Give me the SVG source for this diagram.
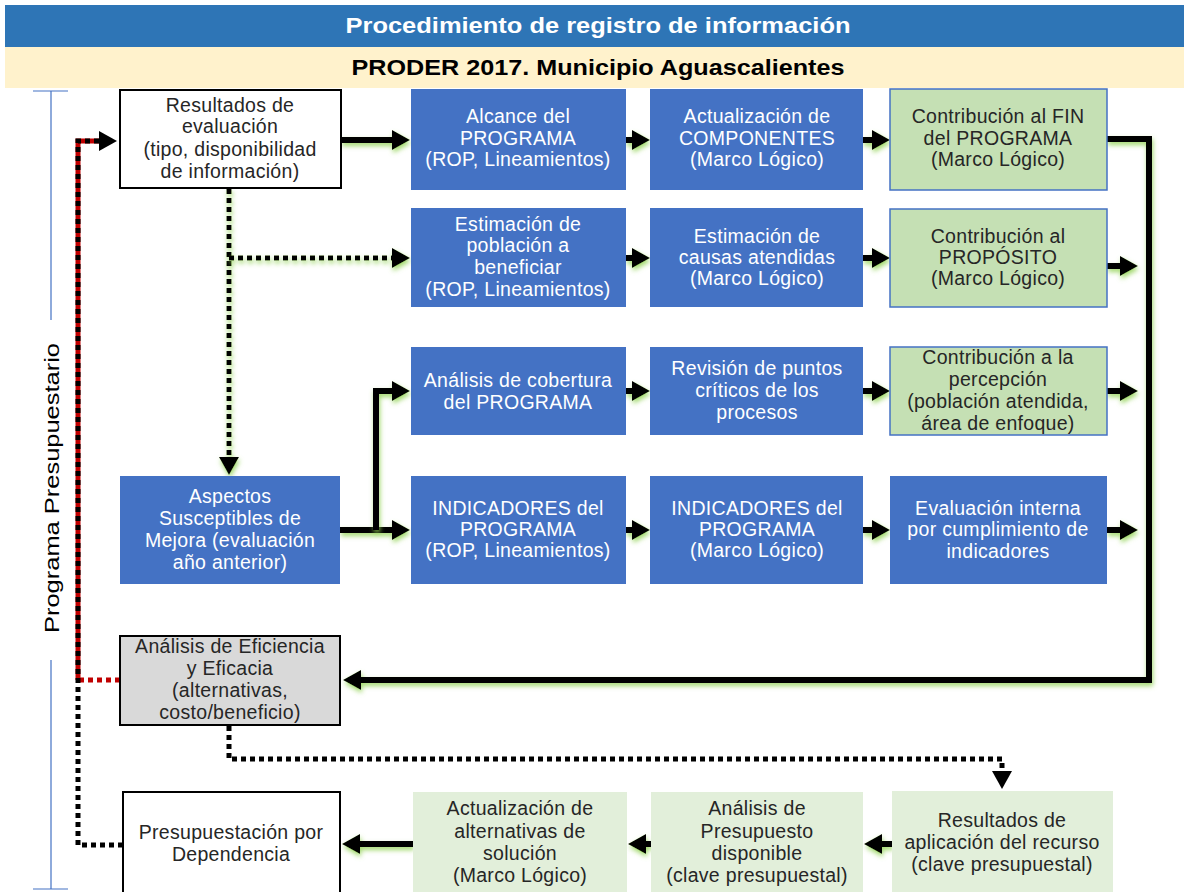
<svg xmlns="http://www.w3.org/2000/svg" width="1184" height="892" viewBox="0 0 1184 892">
<defs>
<style>
.t{font-family:"Liberation Sans",Arial,sans-serif;font-size:19.5px;letter-spacing:0.3px;text-anchor:middle;fill:#262626}
.w{fill:#ffffff}
.blue{fill:#4472C4}
.green{fill:#C5E0B4;stroke:#4472C4;stroke-width:1.5}
.lg{fill:#E2EFDA}
.wb{fill:#ffffff;stroke:#000;stroke-width:2}
.gb{fill:#D9D9D9;stroke:#000;stroke-width:2}
.thick{fill:none;stroke:#000;stroke-width:6;filter:url(#glow)}
.dot{fill:none;stroke:#000;stroke-width:5;stroke-dasharray:5 4}
.dotg{fill:none;stroke:#000;stroke-width:5;stroke-dasharray:5 4;filter:url(#glow)}
.hd{font-family:"Liberation Sans",Arial,sans-serif;font-weight:bold;font-size:22px;text-anchor:middle}
</style>
<filter id="glow" filterUnits="userSpaceOnUse" x="0" y="0" width="1184" height="892">
<feGaussianBlur in="SourceAlpha" stdDeviation="2.5" result="b"/>
<feOffset in="b" dx="1" dy="3" result="o"/>
<feFlood flood-color="#8fd14f" flood-opacity="0.85"/>
<feComposite in2="o" operator="in" result="g"/>
<feMerge><feMergeNode in="g"/><feMergeNode in="SourceGraphic"/></feMerge>
</filter>
<marker id="ah" markerUnits="userSpaceOnUse" viewBox="0 0 18 20" markerWidth="18" markerHeight="20" refX="1" refY="10" orient="auto">
<path d="M0,0 L18,10 L0,20 Z" fill="#000"/>
</marker>
</defs>

<g id="header">
<rect x="5" y="5" width="1179" height="42" fill="#2E75B6"/>
<text class="hd" x="598" y="33" fill="#ffffff" textLength="505" lengthAdjust="spacingAndGlyphs">Procedimiento de registro de información</text>
<rect x="5" y="47" width="1179" height="41" fill="#FFF2CC"/>
<text class="hd" x="598" y="75" fill="#000000" textLength="493" lengthAdjust="spacingAndGlyphs">PRODER 2017. Municipio Aguascalientes</text>
</g>

<g id="bracket">
<path d="M33,91 H68 M51,91 V320 M51,660 V889 M33,889 H68" fill="none" stroke="#4472C4" stroke-width="1.2"/>
<text transform="translate(59,488) rotate(-90)" x="0" y="0" font-family="Liberation Sans, Arial, sans-serif" font-size="20" text-anchor="middle" fill="#000" textLength="290" lengthAdjust="spacingAndGlyphs">Programa Presupuestario</text>
</g>

<g id="connectors">
<path d="M78,680 V141 H100" fill="none" stroke="#C00000" stroke-width="5"/>
<path d="M120,680 H78" fill="none" stroke="#C00000" stroke-width="5" stroke-dasharray="5 4"/>
<path class="dot" d="M123,845 H78 V141 H100" marker-end="url(#ah)"/>
<path class="thick" d="M341,140 H393" marker-end="url(#ah)"/>
<path class="thick" d="M626,140 H633" marker-end="url(#ah)"/>
<path class="thick" d="M863,140 H873" marker-end="url(#ah)"/>
<path class="thick" d="M1107,139 H1149 V680 H360" marker-end="url(#ah)"/>
<path class="dotg" d="M229,189 V458" marker-end="url(#ah)"/>
<path class="dotg" d="M229,258 H393" marker-end="url(#ah)"/>
<path class="thick" d="M626,258 H633" marker-end="url(#ah)"/>
<path class="thick" d="M863,258 H873" marker-end="url(#ah)"/>
<path class="thick" d="M1107,266 H1121" marker-end="url(#ah)"/>
<path class="thick" d="M626,391 H633" marker-end="url(#ah)"/>
<path class="thick" d="M863,391 H873" marker-end="url(#ah)"/>
<path class="thick" d="M1107,391 H1121" marker-end="url(#ah)"/>
<path class="thick" d="M340,530 H393" marker-end="url(#ah)"/>
<path class="thick" d="M376,530 V391 H393" marker-end="url(#ah)"/>
<path class="thick" d="M626,530 H633" marker-end="url(#ah)"/>
<path class="thick" d="M863,530 H873" marker-end="url(#ah)"/>
<path class="thick" d="M1107,530 H1121" marker-end="url(#ah)"/>
<path class="dot" d="M229,726 V759 H1002 V772" marker-end="url(#ah)"/>
<path class="thick" d="M892,844 H881" marker-end="url(#ah)"/>
<path class="thick" d="M651,844 H645" marker-end="url(#ah)"/>
<path class="thick" d="M413,844 H359" marker-end="url(#ah)"/>
</g>

<g id="n-resultados">
<rect class="wb" x="120" y="90" width="221" height="98"/>
<text class="t"><tspan x="230" y="112">Resultados de</tspan><tspan x="230" y="133">evaluación</tspan><tspan x="230" y="156">(tipo, disponibilidad</tspan><tspan x="230" y="178">de información)</tspan></text>
</g>
<g id="n-alcance">
<rect class="blue" x="411" y="89" width="215" height="101"/>
<text class="t w"><tspan x="518" y="123">Alcance del</tspan><tspan x="518" y="145">PROGRAMA</tspan><tspan x="518" y="166">(ROP, Lineamientos)</tspan></text>
</g>
<g id="n-componentes">
<rect class="blue" x="650" y="89" width="213" height="101"/>
<text class="t w"><tspan x="757" y="123">Actualización de</tspan><tspan x="757" y="145">COMPONENTES</tspan><tspan x="757" y="166">(Marco Lógico)</tspan></text>
</g>
<g id="n-fin">
<rect class="green" x="890" y="89" width="217" height="101"/>
<text class="t"><tspan x="998" y="123">Contribución al FIN</tspan><tspan x="998" y="145">del PROGRAMA</tspan><tspan x="998" y="166">(Marco Lógico)</tspan></text>
</g>

<g id="n-poblacion">
<rect class="blue" x="411" y="208" width="215" height="99"/>
<text class="t w"><tspan x="518" y="231">Estimación de</tspan><tspan x="518" y="252">población a</tspan><tspan x="518" y="274">beneficiar</tspan><tspan x="518" y="296">(ROP, Lineamientos)</tspan></text>
</g>
<g id="n-causas">
<rect class="blue" x="650" y="208" width="213" height="99"/>
<text class="t w"><tspan x="757" y="243">Estimación de</tspan><tspan x="757" y="264">causas atendidas</tspan><tspan x="757" y="285">(Marco Lógico)</tspan></text>
</g>
<g id="n-proposito">
<rect class="green" x="890" y="209" width="217" height="98"/>
<text class="t"><tspan x="998" y="243">Contribución al</tspan><tspan x="998" y="264">PROPÓSITO</tspan><tspan x="998" y="285">(Marco Lógico)</tspan></text>
</g>

<g id="n-cobertura">
<rect class="blue" x="411" y="347" width="215" height="88"/>
<text class="t w"><tspan x="518" y="387">Análisis de cobertura</tspan><tspan x="518" y="409">del PROGRAMA</tspan></text>
</g>
<g id="n-criticos">
<rect class="blue" x="650" y="347" width="213" height="88"/>
<text class="t w"><tspan x="757" y="375">Revisión de puntos</tspan><tspan x="757" y="397">críticos de los</tspan><tspan x="757" y="419">procesos</tspan></text>
</g>
<g id="n-percepcion">
<rect class="green" x="890" y="347" width="217" height="88"/>
<text class="t"><tspan x="998" y="364">Contribución a la</tspan><tspan x="998" y="386">percepción</tspan><tspan x="998" y="408">(población atendida,</tspan><tspan x="998" y="430">área de enfoque)</tspan></text>
</g>

<g id="n-aspectos">
<rect class="blue" x="120" y="476" width="220" height="108"/>
<text class="t w"><tspan x="230" y="503">Aspectos</tspan><tspan x="230" y="525">Susceptibles de</tspan><tspan x="230" y="547">Mejora (evaluación</tspan><tspan x="230" y="569">año anterior)</tspan></text>
</g>
<g id="n-ind-rop">
<rect class="blue" x="411" y="476" width="215" height="108"/>
<text class="t w"><tspan x="518" y="515">INDICADORES del</tspan><tspan x="518" y="536">PROGRAMA</tspan><tspan x="518" y="557">(ROP, Lineamientos)</tspan></text>
</g>
<g id="n-ind-ml">
<rect class="blue" x="650" y="476" width="213" height="108"/>
<text class="t w"><tspan x="757" y="515">INDICADORES del</tspan><tspan x="757" y="536">PROGRAMA</tspan><tspan x="757" y="557">(Marco Lógico)</tspan></text>
</g>
<g id="n-evaluacion">
<rect class="blue" x="890" y="476" width="217" height="108"/>
<text class="t w"><tspan x="998" y="515">Evaluación interna</tspan><tspan x="998" y="536">por cumplimiento de</tspan><tspan x="998" y="558">indicadores</tspan></text>
</g>

<g id="n-eficiencia">
<rect class="gb" x="120" y="636" width="220" height="89"/>
<text class="t"><tspan x="230" y="653">Análisis de Eficiencia</tspan><tspan x="230" y="675">y Eficacia</tspan><tspan x="230" y="697">(alternativas,</tspan><tspan x="230" y="719">costo/beneficio)</tspan></text>
</g>

<g id="n-presupuestacion">
<rect class="wb" x="123" y="792" width="217" height="110"/>
<text class="t"><tspan x="231" y="839">Presupuestación por</tspan><tspan x="231" y="861">Dependencia</tspan></text>
</g>
<g id="n-alternativas">
<rect class="lg" x="413" y="792" width="214" height="100"/>
<text class="t"><tspan x="520" y="815">Actualización de</tspan><tspan x="520" y="838">alternativas de</tspan><tspan x="520" y="860">solución</tspan><tspan x="520" y="882">(Marco Lógico)</tspan></text>
</g>
<g id="n-presupuesto">
<rect class="lg" x="651" y="792" width="212" height="100"/>
<text class="t"><tspan x="757" y="815">Análisis de</tspan><tspan x="757" y="838">Presupuesto</tspan><tspan x="757" y="860">disponible</tspan><tspan x="757" y="882">(clave presupuestal)</tspan></text>
</g>
<g id="n-aplicacion">
<rect class="lg" x="892" y="791" width="221" height="101"/>
<text class="t"><tspan x="1002" y="827">Resultados de</tspan><tspan x="1002" y="849">aplicación del recurso</tspan><tspan x="1002" y="871">(clave presupuestal)</tspan></text>
</g>
</svg>
